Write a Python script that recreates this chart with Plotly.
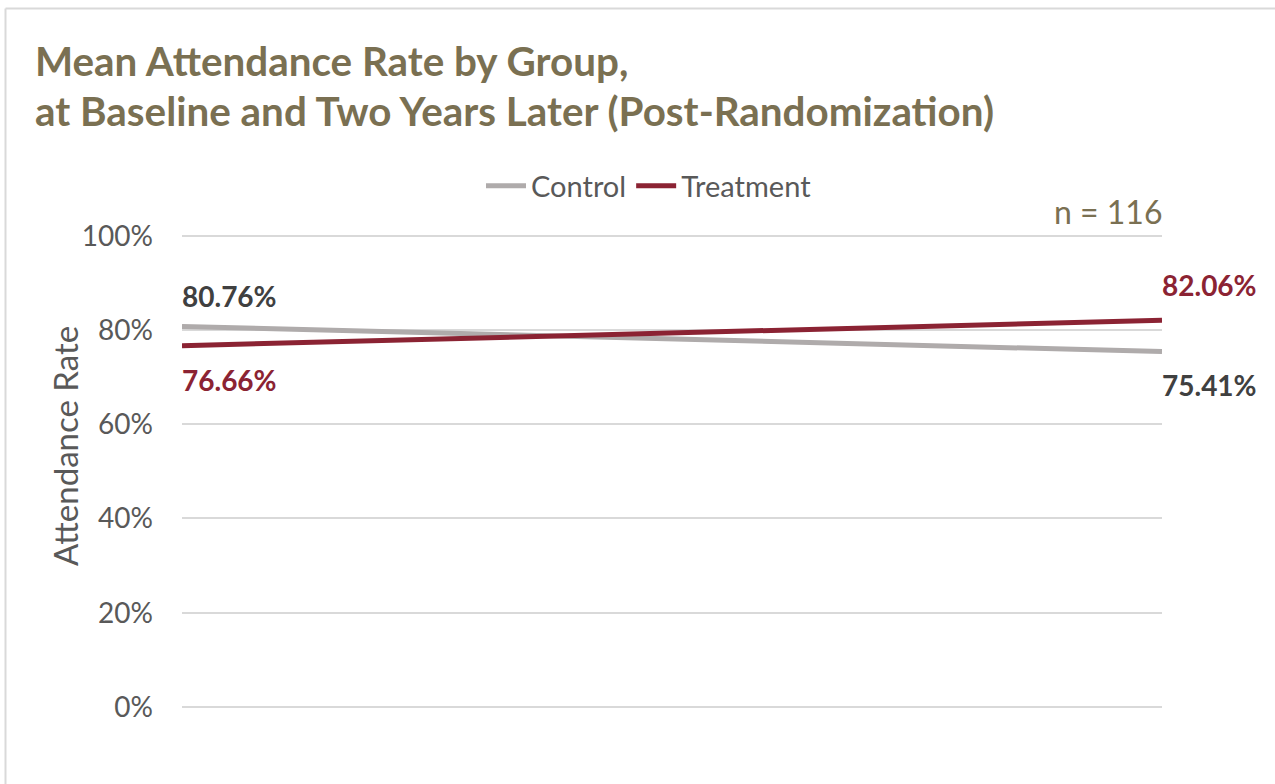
import plotly.graph_objects as go

periods = ["Baseline", "Two Years Later"]
control = [80.76, 75.41]
treatment = [76.66, 82.06]
tick_vals = [0, 20, 40, 60, 80, 100]
tick_text = ["0%", "20%", "40%", "60%", "80%", "100%"]

W, H = 1275, 784
L, R, T, B = 182, 1162, 231, 707
YMAX = 101

def px_x(p):
    return (p - L) / (R - L)

def px_y(p):
    return (B - p) / (B - T)

GRAY = "#AFABAB"
RED = "#8B2333"
OLIVE = "#7A7052"
DARK = "#404040"
FONT = "Lato"
LBL = 28

fig = go.Figure()
fig.add_trace(go.Scatter(x=periods, y=control, mode="lines", name="Control",
                         line=dict(color=GRAY, width=5)))
fig.add_trace(go.Scatter(x=periods, y=treatment, mode="lines", name="Treatment",
                         line=dict(color=RED, width=5)))

annotations = []
def lbl(xv, yv, color, shift):
    annotations.append(dict(x=xv, y=yv, xref="x", yref="y",
                            text=f"<b>{yv:.2f}%</b>", showarrow=False,
                            xanchor="left", yanchor="middle", yshift=shift, xshift=-2,
                            font=dict(size=LBL, color=color, family=FONT)))
lbl(periods[0], control[0], DARK, 30)
lbl(periods[1], control[1], DARK, -33)
lbl(periods[0], treatment[0], RED, -34)
lbl(periods[1], treatment[1], RED, 35)

# title lines
annotations.append(dict(x=px_x(33), y=px_y(61), xref="paper", yref="paper",
                        text="<b>Mean Attendance Rate by Group,</b>", showarrow=False,
                        xanchor="left", yanchor="middle",
                        font=dict(size=40.4, color=OLIVE, family=FONT)))
annotations.append(dict(x=px_x(33), y=px_y(110), xref="paper", yref="paper",
                        text="<b>at Baseline and Two Years Later (Post-Randomization)</b>",
                        showarrow=False, xanchor="left", yanchor="middle",
                        font=dict(size=40.4, color=OLIVE, family=FONT)))
# n annotation
annotations.append(dict(x=1, y=px_y(212), xref="paper", yref="paper",
                        text="n = 116", showarrow=False, xshift=2,
                        xanchor="right", yanchor="middle",
                        font=dict(size=32, color=OLIVE, family=FONT)))
# y axis title
annotations.append(dict(x=px_x(65), y=px_y(446), xref="paper", yref="paper",
                        text="Attendance Rate", showarrow=False, textangle=-90,
                        xanchor="center", yanchor="middle",
                        font=dict(size=33, color="#595959", family=FONT)))

shapes = [
    dict(type="line", xref="paper", yref="paper",
         x0=px_x(5.5), x1=px_x(5.5), y0=px_y(800), y1=px_y(8.5),
         line=dict(color="#D9D9D9", width=2)),
    dict(type="line", xref="paper", yref="paper",
         x0=px_x(5.5), x1=px_x(1290), y0=px_y(8.5), y1=px_y(8.5),
         line=dict(color="#D9D9D9", width=2)),
]

fig.update_layout(
    width=W, height=H,
    margin=dict(l=L, r=W - R, t=T, b=H - B, autoexpand=False),
    paper_bgcolor="white", plot_bgcolor="white",
    font=dict(family=FONT, color="#595959"),
    showlegend=True,
    legend=dict(orientation="h", x=px_x(649), y=px_y(186),
                xanchor="center", yanchor="middle",
                font=dict(size=29, color="#595959", family=FONT),
                itemwidth=40, bgcolor="rgba(0,0,0,0)"),
    annotations=annotations,
    shapes=shapes,
)
fig.update_xaxes(type="category", range=[0, 1], showticklabels=False,
                 showgrid=False, zeroline=False, showline=False, ticks="")
fig.update_yaxes(range=[0, YMAX], tickvals=tick_vals, ticktext=tick_text,
                 showgrid=True, gridcolor="#D9D9D9", gridwidth=2,
                 zeroline=True, zerolinecolor="#D9D9D9", zerolinewidth=2,
                 showline=False, ticks="", ticklabelstandoff=28,
                 tickfont=dict(size=28, color="#595959", family=FONT))

fig.write_html("out.html")
